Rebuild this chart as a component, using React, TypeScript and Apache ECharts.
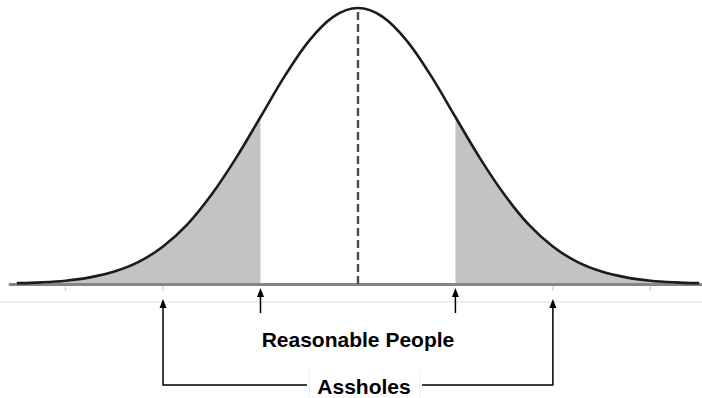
import { useEffect, useRef } from "react";
import * as echarts from "echarts";

// Positions along the axis in standard deviations, and curve heights (peak = 1)
const sigmaSteps = [-3.5, -3.25, -3, -2.75, -2.5, -2.25, -2, -1.75, -1.5, -1.25, -1, -0.75, -0.5, -0.25, 0, 0.25, 0.5, 0.75, 1, 1.25, 1.5, 1.75, 2, 2.25, 2.5, 2.75, 3, 3.25, 3.5];
const curveHeights = [0.003, 0.006, 0.012, 0.024, 0.045, 0.08, 0.136, 0.216, 0.325, 0.457, 0.605, 0.754, 0.882, 0.969, 1, 0.969, 0.882, 0.754, 0.605, 0.457, 0.325, 0.216, 0.136, 0.08, 0.045, 0.024, 0.012, 0.006, 0.003];
const tailLimit = 1; // shaded beyond ±1σ
const outerLimit = 2; // "Assholes" arrows at ±2σ
const faintTicks = [-3, -2, 2, 3];
const labelInner = "Reasonable People";
const labelOuter = "Assholes";

export default function App() {
  const ref = useRef<HTMLDivElement>(null);
  useEffect(() => {
    document.body.style.margin = "0";
    const chart = echarts.init(ref.current!, null, { renderer: "svg" });
    const pts = sigmaSteps.map((s, i) => [s, curveHeights[i]]);
    const leftTail = pts.filter((p) => p[0] <= -tailLimit);
    const rightTail = pts.filter((p) => p[0] >= tailLimit);
    const smooth = 0.35;
    const tailStyle = {
      type: "line" as const,
      smooth,
      symbol: "none",
      silent: true,
      clip: false,
      lineStyle: { width: 0 },
      areaStyle: { color: "#c3c3c3", opacity: 1 },
      z: 1,
    };
    chart.setOption({
      animation: false,
      grid: { left: 10, right: 0, top: 8, bottom: 114 },
      xAxis: {
        type: "value",
        min: -3.57,
        max: 3.53,
        z: 3,
        axisLine: { show: true, lineStyle: { color: "#858585", width: 3 } },
        axisTick: { show: false },
        axisLabel: { show: false },
        splitLine: { show: false },
      },
      yAxis: { type: "value", min: 0, max: 1, show: false },
      series: [
        { ...tailStyle, data: leftTail },
        { ...tailStyle, data: rightTail },
        {
          type: "line",
          smooth,
          symbol: "none",
          silent: true,
          clip: false,
          data: pts,
          z: 4,
          lineStyle: { color: "#1c1c1c", width: 2.6 },
          markLine: {
            silent: true,
            symbol: ["none", "none"],
            label: { show: false },
            lineStyle: { color: "#4a4a4a", width: 2.4, type: [8, 4] },
            data: [{ xAxis: 0 }],
          },
        },
      ],
    });

    const px = (s: number) => chart.convertToPixel({ gridIndex: 0 }, [s, 0]) as number[];
    const baseY = px(0)[1];
    const black = "#000";
    const elements: any[] = [];
    elements.push({
      type: "line",
      shape: { x1: 0, y1: 302, x2: 702, y2: 302 },
      style: { stroke: "#dedede", lineWidth: 1 },
      silent: true,
    });
    faintTicks.forEach((t) => {
      const x = px(t)[0];
      elements.push({
        type: "line",
        shape: { x1: x, y1: baseY + 2, x2: x, y2: baseY + 7 },
        style: { stroke: "#d8d8d8", lineWidth: 1.5 },
        silent: true,
      });
    });
    const arrowHead = (x: number, tip: number) => ({
      type: "polygon",
      shape: { points: [[x, tip], [x - 3.5, tip + 9], [x + 3.5, tip + 9]] },
      style: { fill: black },
      silent: true,
    });
    // Reasonable people arrows at ±1σ
    [-tailLimit, tailLimit].forEach((s) => {
      const x = px(s)[0];
      elements.push({
        type: "line",
        shape: { x1: x, y1: 296, x2: x, y2: 313 },
        style: { stroke: black, lineWidth: 1.5 },
        silent: true,
      });
      elements.push(arrowHead(x, 288));
    });
    // Assholes bracket at ±2σ
    const xl = px(-outerLimit)[0];
    const xr = px(outerLimit)[0];
    const bracketY = 385;
    elements.push({
      type: "polyline",
      shape: { points: [[xl, 306], [xl, bracketY], [307, bracketY]] },
      style: { stroke: black, lineWidth: 1.5, fill: "none" },
      silent: true,
    });
    elements.push({
      type: "polyline",
      shape: { points: [[422, bracketY], [xr, bracketY], [xr, 306]] },
      style: { stroke: black, lineWidth: 1.5, fill: "none" },
      silent: true,
    });
    elements.push(arrowHead(xl, 299));
    elements.push(arrowHead(xr, 299));
    // faint text box edges
    [309, 420].forEach((x) => {
      elements.push({
        type: "line",
        shape: { x1: x, y1: 370, x2: x, y2: 398 },
        style: { stroke: "#ececec", lineWidth: 1 },
        silent: true,
      });
    });
    const font = { fontFamily: "'Liberation Sans', Arial, sans-serif", fontWeight: "bold", fontSize: 21, fill: "#000" };
    elements.push({
      type: "text",
      x: px(0)[0],
      y: 339,
      style: { ...font, text: labelInner, align: "center", verticalAlign: "middle" },
      silent: true,
    });
    elements.push({
      type: "text",
      x: 364,
      y: 386,
      style: { ...font, text: labelOuter, align: "center", verticalAlign: "middle" },
      silent: true,
    });
    chart.setOption({ graphic: { elements } });
    return () => chart.dispose();
  }, []);
  return <div ref={ref} style={{ width: 702, height: 398 }} />;
}
